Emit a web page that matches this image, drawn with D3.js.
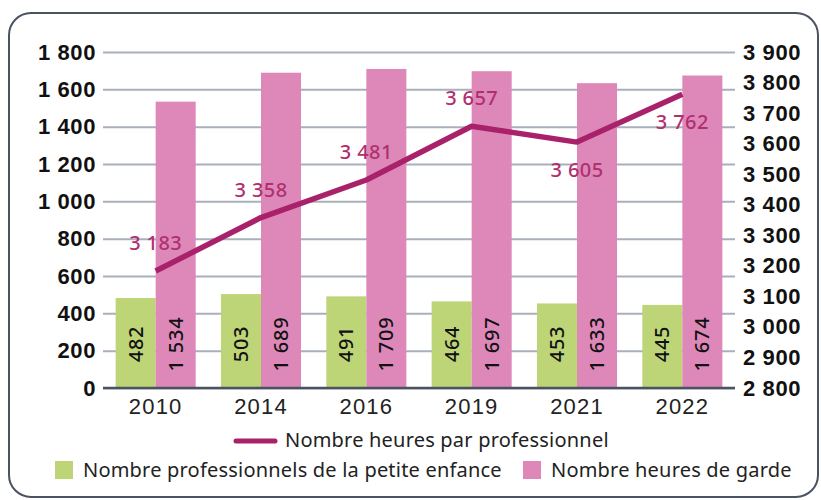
<!DOCTYPE html>
<html>
<head>
<meta charset="utf-8">
<script src="https://cdn.jsdelivr.net/npm/d3@7"></script>
<style>
  body { margin: 0; background: #fff; }
  svg { display: block; font-family: "Noto Sans", sans-serif; }
</style>
</head>
<body>
<div id="chart"></div>
<script>
// data
var years = ["2010", "2014", "2016", "2019", "2021", "2022"];
var professionnels = [482, 503, 491, 464, 453, 445];
var heuresGarde = [1534, 1689, 1709, 1697, 1633, 1674];
var heuresParPro = [3183, 3358, 3481, 3657, 3605, 3762];
var labelSide = ["above", "above", "above", "above", "below", "below"];
var leftTicks = d3.range(0, 1801, 200);
var rightTicks = d3.range(2800, 3901, 100);

var width = 821, height = 500;
var margin = {top: 52, right: 86, bottom: 112, left: 103};
var chartW = width - margin.left - margin.right,
    chartH = height - margin.top - margin.bottom;

var fr = d3.formatLocale({decimal: ",", thousands: " ", grouping: [3], currency: ["", ""]});
var fmt = fr.format(",d");

var green = "#bed577", pink = "#dd88b9", lineCol = "#a9216a", lineLabel = "#b0306f";

var svg = d3.select("#chart").append("svg")
    .attr("width", width)
    .attr("height", height);

svg.append("rect")
    .attr("x", 9).attr("y", 13)
    .attr("width", 809).attr("height", 484)
    .attr("rx", 22)
    .attr("fill", "none")
    .attr("stroke", "#4b5362")
    .attr("stroke-width", 2);

var g = svg.append("g")
    .attr("transform", "translate(" + margin.left + "," + margin.top + ")");

var x0 = d3.scaleBand().domain(years).range([0, chartW]).paddingInner(0.24).paddingOuter(0.12);
var x1 = d3.scaleBand().domain(["pro", "garde"]).range([0, x0.bandwidth()]);
var yL = d3.scaleLinear().domain([0, 1800]).range([chartH, 0]);
var yR = d3.scaleLinear().domain([2800, 3900]).range([chartH, 0]);

// grid + left axis
var axL = g.append("g")
    .call(d3.axisLeft(yL).tickValues(leftTicks).tickSize(-chartW).tickPadding(7).tickFormat(fmt));
axL.select(".domain").remove();
axL.selectAll(".tick line").attr("stroke", "#a9b0bc").attr("stroke-width", 2);
axL.selectAll(".tick text")
    .attr("fill", "#111")
    .style("font-size", "22px")
    .style("letter-spacing", "0.6px")
    .style("font-weight", "600");

var axR = g.append("g")
    .attr("transform", "translate(" + chartW + ",0)")
    .call(d3.axisRight(yR).tickValues(rightTicks).tickSize(0).tickPadding(8).tickFormat(fmt));
axR.select(".domain").remove();
axR.selectAll(".tick text")
    .attr("fill", "#111")
    .style("font-size", "22px")
    .style("letter-spacing", "0.6px")
    .style("font-weight", "600");

// bars
var rows = years.map(function(y, i) {
    return {year: y, values: [{key: "pro", v: professionnels[i]}, {key: "garde", v: heuresGarde[i]}]};
});

var groups = g.selectAll(".grp")
    .data(rows)
    .enter().append("g")
    .attr("class", "grp")
    .attr("transform", function(d) { return "translate(" + x0(d.year) + ",0)"; });

groups.selectAll("rect")
    .data(function(d) { return d.values; })
    .enter().append("rect")
    .attr("x", function(d) { return x1(d.key); })
    .attr("y", function(d) { return yL(d.v); })
    .attr("width", x1.bandwidth())
    .attr("height", function(d) { return chartH - yL(d.v); })
    .attr("fill", function(d) { return d.key === "pro" ? green : pink; });

groups.selectAll("text")
    .data(function(d) { return d.values; })
    .enter().append("text")
    .attr("transform", function(d) {
        return "translate(" + (x1(d.key) + x1.bandwidth() / 2 + 7) + "," + (chartH - 44) + ") rotate(-90)";
    })
    .attr("text-anchor", "middle")
    .attr("fill", "#111")
    .style("font-size", "20px")
    .style("font-weight", "500")
    .style("letter-spacing", "0.8px")
    .text(function(d) { return fmt(d.v); });

// baseline
g.append("line")
    .attr("x1", 0).attr("x2", chartW)
    .attr("y1", chartH).attr("y2", chartH)
    .attr("stroke", "#4b5362")
    .attr("stroke-width", 2.5);

// x axis labels
var axX = g.append("g")
    .attr("transform", "translate(0," + chartH + ")")
    .call(d3.axisBottom(x0).tickSize(0).tickPadding(10));
axX.select(".domain").remove();
axX.selectAll(".tick text")
    .attr("fill", "#222")
    .style("font-size", "22px")
    .style("letter-spacing", "1.2px");

// line
var cx = function(i) { return x0(years[i]) + x0.bandwidth() / 2; };
var line = d3.line()
    .x(function(d, i) { return cx(i); })
    .y(function(d) { return yR(d); });

g.append("path")
    .attr("d", line(heuresParPro))
    .attr("fill", "none")
    .attr("stroke", lineCol)
    .attr("stroke-width", 5.5)
    .attr("stroke-linejoin", "round");

g.selectAll(".lbl")
    .data(heuresParPro)
    .enter().append("text")
    .attr("class", "lbl")
    .attr("x", function(d, i) { return cx(i); })
    .attr("y", function(d, i) { return yR(d) + (labelSide[i] === "above" ? -21 : 35); })
    .attr("text-anchor", "middle")
    .attr("fill", lineLabel)
    .style("font-size", "20px")
    .style("font-weight", "500")
    .style("letter-spacing", "0.4px")
    .text(function(d) { return fmt(d); });

// legend
var leg = svg.append("g").style("font-size", "20px").style("letter-spacing", "0.2px").attr("fill", "#222");
leg.append("line")
    .attr("x1", 236).attr("x2", 275).attr("y1", 441).attr("y2", 441)
    .attr("stroke", lineCol).attr("stroke-width", 5).attr("stroke-linecap", "round");
leg.append("text").attr("x", 285).attr("y", 447).text("Nombre heures par professionnel");

leg.append("rect").attr("x", 55).attr("y", 461).attr("width", 18).attr("height", 18).attr("fill", green);
leg.append("text").attr("x", 83).attr("y", 477).text("Nombre professionnels de la petite enfance");
leg.append("rect").attr("x", 523).attr("y", 461).attr("width", 18).attr("height", 18).attr("fill", pink);
leg.append("text").attr("x", 551).attr("y", 477).text("Nombre heures de garde");
</script>
</body>
</html>
